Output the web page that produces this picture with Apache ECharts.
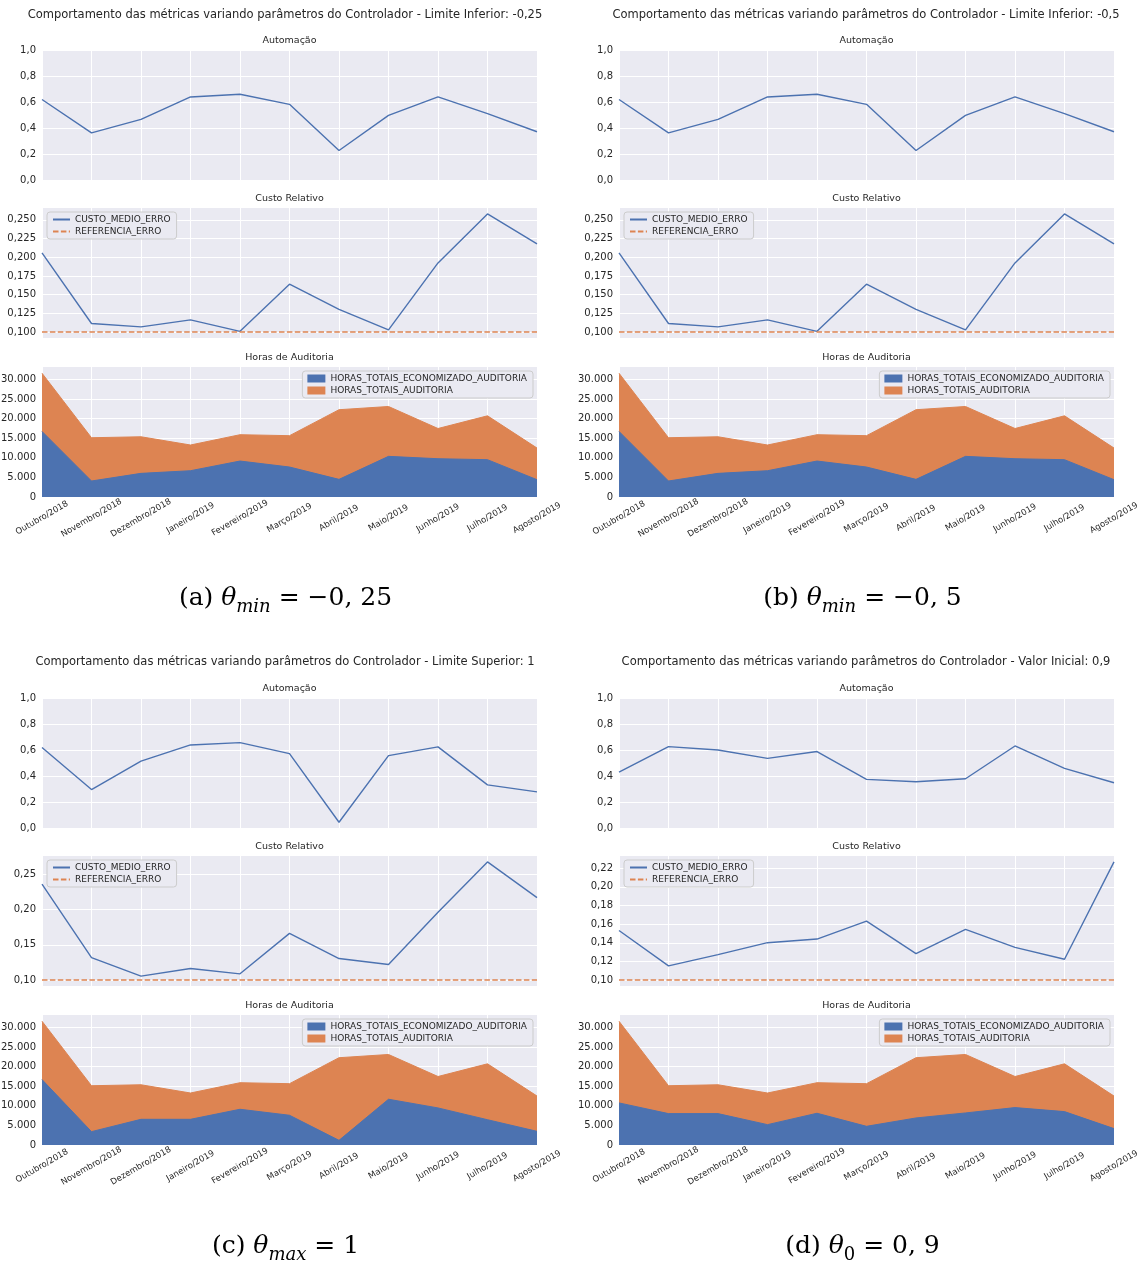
<!DOCTYPE html>
<html>
<head>
<meta charset="utf-8">
<script src="https://cdn.jsdelivr.net/npm/echarts@6.0.0/dist/echarts.min.js"></script>
<style>
  html, body { margin: 0; padding: 0; background: #fff; }
  #chart { width: 1145px; height: 1270px; }
</style>
</head>
<body>
<div id="chart"></div>
<script>
// dados
const meses = ['Outubro/2018', 'Novembro/2018', 'Dezembro/2018', 'Janeiro/2019', 'Fevereiro/2019',
  'Março/2019', 'Abril/2019', 'Maio/2019', 'Junho/2019', 'Julho/2019', 'Agosto/2019'];

const horasTotais = [31600, 15130, 15370, 13270, 15900, 15650, 22280, 23100, 17480, 20720, 12500];
const referenciaErro = [0.1, 0.1, 0.1, 0.1, 0.1, 0.1, 0.1, 0.1, 0.1, 0.1, 0.1];

// (a) e (b) limite inferior
const automacaoA = [0.619, 0.363, 0.466, 0.639, 0.660, 0.582, 0.227, 0.497, 0.639, 0.510, 0.371];
const custoA = [0.206, 0.1115, 0.107, 0.1164, 0.101, 0.164, 0.1305, 0.103, 0.1925, 0.258, 0.218];
const economizadoA = [16740, 4080, 6030, 6710, 9180, 7650, 4500, 10370, 9770, 9520, 4420];

// (c) limite superior
const automacaoC = [0.619, 0.296, 0.515, 0.639, 0.657, 0.572, 0.044, 0.557, 0.624, 0.332, 0.278];
const custoC = [0.2363, 0.132, 0.1056, 0.1165, 0.1089, 0.1663, 0.1306, 0.1221, 0.1964, 0.2678, 0.2171];
const economizadoC = [16700, 3410, 6560, 6560, 9120, 7590, 1190, 11680, 9460, 6450, 3490];

// (d) valor inicial
const automacaoD = [0.430, 0.626, 0.600, 0.536, 0.588, 0.374, 0.356, 0.379, 0.631, 0.459, 0.348];
const custoD = [0.1532, 0.1153, 0.1273, 0.1401, 0.1440, 0.1632, 0.1284, 0.1543, 0.1351, 0.1224, 0.2267];
const economizadoD = [10740, 8010, 8010, 5200, 8100, 4770, 6900, 8180, 9550, 8520, 4180];

// ticks
const ticksAutomacao = [0, 0.2, 0.4, 0.6, 0.8, 1.0];
const ticksCustoAB = [0.100, 0.125, 0.150, 0.175, 0.200, 0.225, 0.250];
const ticksCustoC = [0.10, 0.15, 0.20, 0.25];
const ticksCustoD = [0.10, 0.12, 0.14, 0.16, 0.18, 0.20, 0.22];
const ticksHoras = [0, 5000, 10000, 15000, 20000, 25000, 30000];

const AZUL = '#4C72B0';
const LARANJA = '#DD8452';
const FUNDO = '#EAEAF2';
const TEXTO = '#262626';
const FONTE = 'DejaVu Sans';

const paineis = [
  {
    titulo: 'Comportamento das métricas variando parâmetros do Controlador - Limite Inferior: -0,25',
    legenda: ['(a) ', 'θ', 'min', ' = −0, 25'], subItalico: true,
    automacao: automacaoA, custo: custoA, economizado: economizadoA, ticksCusto: ticksCustoAB, casas: 3
  },
  {
    titulo: 'Comportamento das métricas variando parâmetros do Controlador - Limite Inferior: -0,5',
    legenda: ['(b) ', 'θ', 'min', ' = −0, 5'], subItalico: true,
    automacao: automacaoA, custo: custoA, economizado: economizadoA, ticksCusto: ticksCustoAB, casas: 3
  },
  {
    titulo: 'Comportamento das métricas variando parâmetros do Controlador - Limite Superior: 1',
    legenda: ['(c) ', 'θ', 'max', ' = 1'], subItalico: true,
    automacao: automacaoC, custo: custoC, economizado: economizadoC, ticksCusto: ticksCustoC, casas: 2
  },
  {
    titulo: 'Comportamento das métricas variando parâmetros do Controlador - Valor Inicial: 0,9',
    legenda: ['(d) ', 'θ', '0', ' = 0, 9'], subItalico: false,
    automacao: automacaoD, custo: custoD, economizado: economizadoD, ticksCusto: ticksCustoD, casas: 2
  }
];

// layout
const W = 1145;
const colLeft = [42, 619];
const rowTop = [50, 698];
const plotW = 495;
const plotH = 130;
const subOffset = [0, 158, 317];
const tituloX = [285, 866];
const tituloY = [15, 662];
const legendaY = [601, 1249];

function decimal(v, casas) {
  return v.toFixed(casas).replace('.', ',');
}
function milhar(v) {
  return String(Math.round(v)).replace(/\B(?=(\d{3})+(?!\d))/g, '.');
}
function margem(valores) {
  const lo = Math.min(...valores), hi = Math.max(...valores);
  const d = (hi - lo) * 0.05;
  return [lo - d, hi + d];
}

const grid = [], xAxis = [], yAxis = [], series = [], legend = [], graphic = [];

paineis.forEach((p, pi) => {
  const col = pi % 2, row = Math.floor(pi / 2);
  const left = colLeft[col];
  const top0 = rowTop[row];
  const [cMin, cMax] = margem(p.custo.concat(referenciaErro));

  const subs = [
    { nome: 'Automação', ticks: ticksAutomacao, min: 0, max: 1, fmt: v => decimal(v, 1) },
    { nome: 'Custo Relativo', ticks: p.ticksCusto, min: cMin, max: cMax, fmt: v => decimal(v, p.casas) },
    { nome: 'Horas de Auditoria', ticks: ticksHoras, min: 0, max: Math.max(...horasTotais) * 1.05, fmt: milhar }
  ];

  subs.forEach((s, si) => {
    const gi = pi * 3 + si;
    const top = top0 + subOffset[si];
    grid.push({
      left: left, top: top, width: plotW, height: plotH,
      show: true, backgroundColor: FUNDO, borderWidth: 0,
      outerBoundsMode: 'none'
    });
    xAxis.push({
      type: 'category', gridIndex: gi, data: meses, boundaryGap: false,
      axisLine: { show: false }, axisTick: { show: false, interval: 0 },
      splitLine: { show: true, interval: 0, lineStyle: { color: '#ffffff', width: 1 } },
      axisLabel: si === 2 ? {
        show: true, interval: 0, rotate: 30, align: 'center', verticalAlign: 'middle',
        margin: 21, fontSize: 8.5, color: TEXTO, fontFamily: FONTE
      } : { show: false, interval: 0 }
    });
    yAxis.push({
      type: 'value', gridIndex: gi, min: s.min, max: s.max,
      axisLine: { show: false },
      axisTick: { show: false, customValues: s.ticks },
      axisLabel: {
        customValues: s.ticks, formatter: s.fmt, margin: 6,
        fontSize: 10, color: TEXTO, fontFamily: FONTE
      },
      splitLine: { show: true, lineStyle: { color: '#ffffff', width: 1 } }
    });
    graphic.push({
      type: 'text', x: left + plotW / 2, y: top - 9, silent: true,
      style: { text: s.nome, fill: TEXTO, font: '9.5px "DejaVu Sans"', align: 'center', verticalAlign: 'middle' }
    });
  });

  const g = pi * 3;
  series.push({
    type: 'line', name: 'AUTOMACAO', xAxisIndex: g, yAxisIndex: g, data: p.automacao,
    symbol: 'none', color: AZUL, lineStyle: { color: AZUL, width: 1.4 }
  });
  series.push({
    type: 'line', name: 'CUSTO_MEDIO_ERRO', xAxisIndex: g + 1, yAxisIndex: g + 1, data: p.custo,
    symbol: 'none', color: AZUL, lineStyle: { color: AZUL, width: 1.4 }
  });
  series.push({
    type: 'line', name: 'REFERENCIA_ERRO', xAxisIndex: g + 1, yAxisIndex: g + 1, data: referenciaErro,
    symbol: 'none', color: LARANJA, lineStyle: { color: LARANJA, width: 1.5, type: [5.5, 2.4] }
  });
  series.push({
    type: 'line', name: 'HORAS_TOTAIS_AUDITORIA', xAxisIndex: g + 2, yAxisIndex: g + 2, data: horasTotais,
    symbol: 'none', color: LARANJA, lineStyle: { color: LARANJA, width: 1 },
    areaStyle: { color: LARANJA, opacity: 1 }
  });
  series.push({
    type: 'line', name: 'HORAS_TOTAIS_ECONOMIZADO_AUDITORIA', xAxisIndex: g + 2, yAxisIndex: g + 2, data: p.economizado,
    symbol: 'none', color: AZUL, lineStyle: { color: AZUL, width: 1 },
    areaStyle: { color: AZUL, opacity: 1 }
  });

  const caixa = {
    orient: 'vertical', backgroundColor: FUNDO, borderColor: '#cccccc', borderWidth: 1, borderRadius: 3,
    padding: [3, 6, 3, 5], itemGap: 3, selectedMode: false,
    textStyle: { fontSize: 9, color: TEXTO, fontFamily: FONTE }
  };
  legend.push(Object.assign({}, caixa, {
    left: left + 5, top: top0 + subOffset[1] + 4, itemWidth: 17, itemHeight: 10,
    itemStyle: { opacity: 0, borderWidth: 0 },
    data: ['CUSTO_MEDIO_ERRO', 'REFERENCIA_ERRO']
  }));
  legend.push(Object.assign({}, caixa, {
    right: W - (left + plotW - 4), top: top0 + subOffset[2] + 4, itemWidth: 18, itemHeight: 8,
    data: [{ name: 'HORAS_TOTAIS_ECONOMIZADO_AUDITORIA', icon: 'rect' }, { name: 'HORAS_TOTAIS_AUDITORIA', icon: 'rect' }]
  }));

  graphic.push({
    type: 'text', x: tituloX[col], y: tituloY[row], silent: true,
    style: { text: p.titulo, fill: TEXTO, font: '11.5px "DejaVu Sans"', align: 'center', verticalAlign: 'middle' }
  });

  const [pre, theta, sub, pos] = p.legenda;
  graphic.push({
    type: 'text', x: left + plotW / 2 - 4, y: legendaY[row], silent: true,
    style: {
      text: '{n|' + pre + '}{i|' + theta + '}{s|' + sub + '}{n|' + pos + '}',
      align: 'center', verticalAlign: 'middle', fill: '#000',
      rich: {
        n: { fontFamily: 'DejaVu Serif', fontSize: 25, verticalAlign: 'bottom', padding: [0, 0, 6, 0], fill: '#000' },
        i: { fontFamily: 'DejaVu Serif', fontSize: 25, fontStyle: 'italic', verticalAlign: 'bottom', padding: [0, 0, 6, 0], fill: '#000' },
        s: { fontFamily: 'DejaVu Serif', fontSize: 18, fontStyle: p.subItalico ? 'italic' : 'normal', verticalAlign: 'bottom', fill: '#000' }
      }
    }
  });
});

const chart = echarts.init(document.getElementById('chart'), null, { renderer: 'canvas' });
chart.setOption({
  animation: false,
  backgroundColor: '#ffffff',
  textStyle: { fontFamily: FONTE },
  grid: grid,
  xAxis: xAxis,
  yAxis: yAxis,
  legend: legend,
  series: series,
  graphic: graphic
});
</script>
</body>
</html>
